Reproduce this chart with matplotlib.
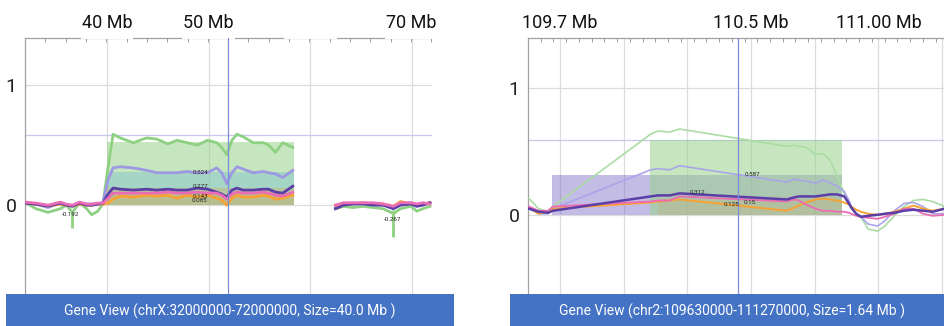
import matplotlib.pyplot as plt
from matplotlib.patches import Rectangle
import matplotlib.transforms as mtransforms
import numpy as np

plt.rcParams['font.family'] = ['Roboto', 'DejaVu Sans']

# ---- left view: chrX 32-72 Mb ----
left_x_a = [32, 33, 34.2, 35.4, 36, 36.6, 37.3, 38, 38.5, 39.1, 39.6, 40.1, 40.6, 41.3, 42.6, 43.9,
            44.9, 46, 46.9, 47.9, 48.9, 49.9, 50.8, 51.3, 51.8, 52.3, 52.8, 53.4, 54.4, 55.4, 55.9,
            56.6, 57.3, 58.3]
left_green_a = [0.02, -0.03, -0.06, -0.03, 0.0, -0.06, 0.02, -0.03, -0.08, -0.05, 0.01, 0.31, 0.59,
                0.56, 0.52, 0.56, 0.55, 0.51, 0.54, 0.52, 0.50, 0.54, 0.52, 0.48, 0.42, 0.54, 0.59,
                0.57, 0.52, 0.52, 0.50, 0.44, 0.52, 0.48]
left_lav_a = [0.02, 0.01, -0.02, 0.02, 0.0, -0.01, 0.02, 0.01, 0.01, 0.01, 0.02, 0.21, 0.31, 0.32,
              0.31, 0.29, 0.27, 0.27, 0.27, 0.28, 0.27, 0.27, 0.31, 0.27, 0.18, 0.27, 0.32, 0.30,
              0.27, 0.28, 0.27, 0.26, 0.23, 0.29]
left_dpur_a = [0.017, 0.008, -0.008, 0.017, 0.0, -0.008, 0.017, 0.0, 0.0, 0.008, 0.017, 0.092, 0.142,
               0.133, 0.125, 0.133, 0.125, 0.133, 0.125, 0.125, 0.142, 0.133, 0.108, 0.092, 0.067,
               0.125, 0.142, 0.125, 0.125, 0.133, 0.133, 0.108, 0.10, 0.158]
left_pink_a = [0.025, 0.017, 0.0, 0.025, 0.008, 0.0, 0.025, 0.008, 0.008, 0.017, 0.017, 0.058, 0.10,
               0.10, 0.10, 0.10, 0.10, 0.108, 0.10, 0.10, 0.108, 0.10, 0.10, 0.083, 0.05, 0.092,
               0.108, 0.10, 0.10, 0.108, 0.10, 0.083, 0.075, 0.108]
left_orng_a = [0.017, 0.008, -0.008, 0.008, 0.0, -0.008, 0.008, 0.0, 0.0, 0.008, 0.008, 0.017, 0.05,
               0.075, 0.067, 0.083, 0.075, 0.083, 0.058, 0.083, 0.067, 0.083, 0.058, 0.042, 0.0,
               0.058, 0.083, 0.067, 0.067, 0.083, 0.075, 0.05, 0.058, 0.083]

left_x_b = [62.5, 63.3, 64.2, 65.2, 66.2, 67.2, 68.2, 68.9, 69.9, 70.5, 71.1, 71.8]
left_green_b = [-0.03, -0.01, -0.02, -0.01, -0.02, -0.03, -0.07, -0.03, -0.01, -0.05, -0.03, -0.01]
left_lav_b = [-0.02, 0.01, 0.01, 0.02, 0.01, 0.0, -0.02, 0.01, 0.02, 0.0, 0.01, 0.02]
left_dpur_b = [-0.03, 0.0, 0.01, 0.01, 0.0, 0.0, -0.03, 0.0, 0.01, -0.01, 0.0, 0.02]
left_pink_b = [0.0, 0.02, 0.02, 0.02, 0.02, 0.01, -0.01, 0.02, 0.02, 0.01, 0.02, 0.01]
left_orng_b = [0.0, 0.01, 0.01, 0.02, 0.01, 0.01, -0.01, 0.03, 0.01, 0.0, 0.01, 0.02]

left_box_start = 40
left_box_end = 58.4
left_box_tops = [0.524, 0.277, 0.143, 0.085]
left_labels = ['0.524', '0.277', '0.143', '0.085', '-0.192', '-0.267']
left_label_x = [49.16, 49.16, 49.16, 49.06, 36.45, 68.08]
left_label_y = [0.275, 0.158, 0.075, 0.042, -0.075, -0.117]
left_spike_x = [36.55, 68.18]
left_spike_min = [-0.192, -0.267]
left_threshold = 0.583
left_marker = 51.9
left_ticks = [40, 50, 60, 70]
left_tick_text = ['40 Mb', '50 Mb', '', '70 Mb']

# ---- right view: chr2 109.63-111.27 Mb ----
right_x = [109.57, 109.61, 109.65, 109.67, 110.08, 110.11, 110.16, 110.20, 110.65, 110.68, 110.70,
           110.73, 110.77, 110.80, 110.83, 110.86, 110.89, 110.91, 110.92, 110.94, 110.96, 110.99,
           111.03, 111.06, 111.10, 111.14, 111.18, 111.22, 111.26, 111.31]
right_green = [0.129, 0.048, 0.024, 0.065, 0.637, 0.661, 0.653, 0.677, 0.540, 0.548, 0.540, 0.532,
               0.476, 0.484, 0.435, 0.306, 0.169, 0.089, 0.048, 0.008, -0.016, -0.113, -0.129,
               -0.089, -0.008, 0.065, 0.113, 0.121, 0.105, 0.065]
right_lav = [0.065, 0.008, 0.008, 0.048, 0.355, 0.363, 0.355, 0.387, 0.258, 0.282, 0.274, 0.266,
             0.250, 0.274, 0.250, 0.226, 0.185, 0.113, 0.065, 0.008, -0.016, -0.073, -0.089, -0.048,
             0.032, 0.089, 0.097, 0.065, 0.008, 0.008]
right_dpur = [0.048, 0.024, 0.016, 0.032, 0.145, 0.153, 0.153, 0.169, 0.121, 0.137, 0.145, 0.145,
              0.145, 0.153, 0.161, 0.161, 0.145, 0.089, 0.056, 0.008, -0.016, -0.008, 0.0, 0.008,
              0.016, 0.032, 0.040, 0.032, 0.024, 0.048]
right_pink = [0.065, 0.032, 0.032, 0.065, 0.105, 0.113, 0.113, 0.145, 0.105, 0.121, 0.113, 0.081,
              0.048, 0.032, 0.032, 0.024, 0.024, 0.016, 0.008, -0.008, -0.016, -0.024, -0.032,
              -0.016, 0.008, 0.048, 0.048, 0.008, -0.008, 0.0]
right_orng = [0.056, 0.008, 0.024, 0.048, 0.097, 0.105, 0.113, 0.121, 0.032, 0.056, 0.073, 0.097,
              0.121, 0.129, 0.121, 0.113, 0.097, 0.081, 0.065, 0.040, 0.024, 0.008, 0.0, 0.008,
              0.024, 0.048, 0.073, 0.048, 0.032, 0.048]

right_box_start = [109.666, 110.11, 110.11, 110.077]
right_box_end = 110.881
right_box_tops = [0.312, 0.15, 0.125, 0.587]
right_labels = ['0.587', '0.312', '0.125', '0.15']
right_label_x = [110.504, 110.274, 110.416, 110.496]
right_label_y = [0.315, 0.177, 0.081, 0.097]
right_threshold = 0.589
right_marker = 110.446
right_ticks = [109.7 + k * 0.8 / 3 for k in range(7)]
right_tick_text = ['109.7 Mb', '', '', '110.5 Mb', '', '111.00 Mb', '']

GREEN = '#8fd183'
LAV = '#9d98e2'
DPUR = '#5b3ea8'
PINK = '#ea6cb4'
ORNG = '#f7a233'
GRID = '#dcdcdc'
BANNER = '#4472c4'

# box fill styles (colour, alpha), drawn in list order
left_box_styles = [('#8fcf80', 0.5), ('#75bccc', 0.4), ('#e0a040', 0.3), ('#c89a50', 0.15)]
right_box_styles = [('#7a6cc6', 0.45), (PINK, 0.2), (ORNG, 0.2), ('#99d38b', 0.55)]

fig = plt.figure(figsize=(9.45, 3.26), dpi=100)
W, H = 945, 326
ax1 = fig.add_axes([25 / W, 32 / H, 407 / W, 256 / H])
ax2 = fig.add_axes([528 / W, 32 / H, 417 / W, 256 / H])


def style(ax, xlim, ylim, ticks, minor_step):
    ax.set_xlim(*xlim)
    ax.set_ylim(*ylim)
    for s in ['right', 'bottom']:
        ax.spines[s].set_visible(False)
    for s in ['left', 'top']:
        ax.spines[s].set_color('#a0a0a0')
        ax.spines[s].set_linewidth(0.9)
    ax.xaxis.tick_top()
    ax.set_xticks(ticks)
    ax.set_xticklabels([])
    ax.set_xticks(np.arange(xlim[0], xlim[1], minor_step), minor=True)
    ax.tick_params(axis='x', which='major', length=0)
    ax.tick_params(axis='x', which='minor', direction='in', length=3, color='#a0a0a0', width=0.7)
    ax.set_yticks([0, 1])
    ax.set_yticklabels(['0', '1'], fontsize=14, color='#222222')
    ax.tick_params(axis='y', length=0, pad=6)
    ax.grid(True, color=GRID, lw=0.9)
    ax.set_axisbelow(True)


style(ax1, (31.93, 72.0), (-0.74, 1.392), left_ticks, 2)
style(ax2, (109.566, 111.312), (-0.625, 1.395), right_ticks, 0.8 / 15)

# threshold and position markers
ax1.axhline(left_threshold, color='#c8c8ee', lw=0.9, zorder=1)
ax2.axhline(right_threshold, color='#c8c8ee', lw=0.9, zorder=1)
ax1.axvline(left_marker, color='#7d8cd8', lw=0.9, zorder=6)
ax2.axvline(right_marker, color='#7d8cd8', lw=0.9, zorder=6)

# summary boxes
for top, (c, a) in zip(left_box_tops, left_box_styles):
    ax1.fill_between([left_box_start, left_box_end], 0, top, color=c, alpha=a, lw=0, zorder=2)
for x0, top, (c, a) in zip(right_box_start, right_box_tops, right_box_styles):
    ax2.fill_between([x0, right_box_end], 0, top, color=c, alpha=a, lw=0, zorder=2)

# profile lines
for xs, ys, c in [(left_x_a, left_green_a, GREEN), (left_x_b, left_green_b, GREEN),
                  (left_x_a, left_lav_a, LAV), (left_x_b, left_lav_b, LAV),
                  (left_x_a, left_orng_a, ORNG), (left_x_b, left_orng_b, ORNG),
                  (left_x_a, left_dpur_a, DPUR), (left_x_b, left_dpur_b, DPUR),
                  (left_x_a, left_pink_a, PINK), (left_x_b, left_pink_b, PINK)]:
    ax1.plot(xs, ys, color=c, lw=2, zorder=4, solid_joinstyle='round')
ax1.vlines(left_spike_x, left_spike_min, -0.04, color=GREEN, lw=2, zorder=4)

for ys, c, lw in [(right_green, '#abdca3', 1.2), (right_lav, '#aaa5e8', 1.2), (right_orng, ORNG, 1.4),
                  (right_pink, PINK, 1.3), (right_dpur, DPUR, 1.8)]:
    ax2.plot(right_x, ys, color=c, lw=lw, zorder=4)

for t, x, y in zip(left_labels, left_label_x, left_label_y):
    ax1.text(x, y, t, fontsize=4.5, ha='center', va='center', color='#222222', zorder=7)
for t, x, y in zip(right_labels, right_label_x, right_label_y):
    ax2.text(x, y, t, fontsize=4.5, ha='center', va='center', color='#222222', zorder=7)

# top tick labels with white backing over the axis line
tr1 = mtransforms.blended_transform_factory(ax1.transData, ax1.transAxes)
for x, t in zip(left_ticks, left_tick_text):
    ax1.add_patch(Rectangle((x - 2.6, 0.995), 5.2, 0.1, transform=tr1, fc='white', ec='none',
                            clip_on=False, zorder=5))
    ax1.text(x, 1.06, t, transform=tr1, fontsize=13, ha='center', va='center', color='#111111',
             zorder=6, clip_on=False)
tr2 = mtransforms.blended_transform_factory(ax2.transData, ax2.transAxes)
for x, t in zip(right_ticks, right_tick_text):
    if t:
        ax2.text(x, 1.06, t, transform=tr2, fontsize=13, ha='center', va='center', color='#111111',
                 zorder=6, clip_on=False)

# bottom banners
fig.patches.append(Rectangle((6 / W, 0), 448 / W, 32 / H, transform=fig.transFigure,
                             fc=BANNER, ec='none', zorder=10))
fig.patches.append(Rectangle((510 / W, 0), 440 / W, 32 / H, transform=fig.transFigure,
                             fc=BANNER, ec='none', zorder=10))
fig.text(230 / W, 15 / H, 'Gene View (chrX:32000000-72000000, Size=40.0 Mb )', color='white',
         fontsize=10, ha='center', va='center', zorder=11)
fig.text(732 / W, 15 / H, 'Gene View (chr2:109630000-111270000, Size=1.64 Mb )', color='white',
         fontsize=10, ha='center', va='center', zorder=11)

fig.savefig('out.png', dpi=100)
